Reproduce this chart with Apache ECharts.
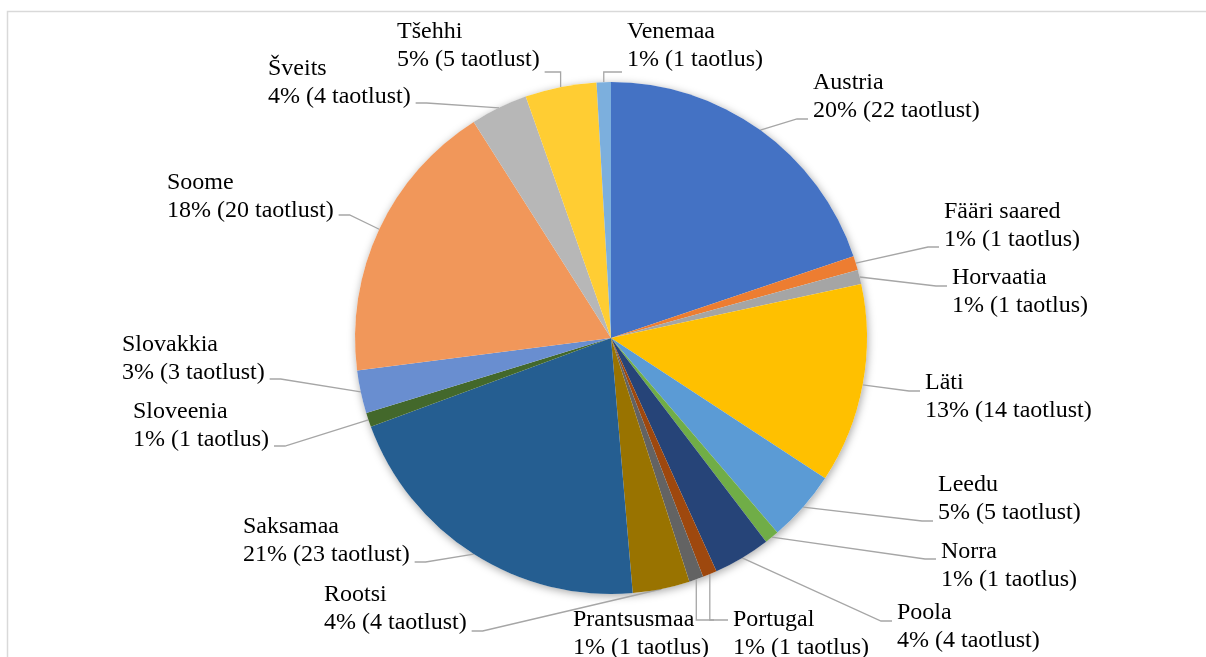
<!DOCTYPE html>
<html>
<head>
<meta charset="utf-8">
<script src="https://cdn.jsdelivr.net/npm/echarts@6/dist/echarts.min.js"></script>
<style>
  html, body { margin: 0; padding: 0; background: #fff; }
  #chart { width: 1206px; height: 657px; }
</style>
</head>
<body>
<div id="chart"></div>
<script>
// riigid päripäeva alates kella 12-st
const countries = ['Austria', 'Fääri saared', 'Horvaatia', 'Läti', 'Leedu', 'Norra', 'Poola', 'Portugal',
  'Prantsusmaa', 'Rootsi', 'Saksamaa', 'Sloveenia', 'Slovakkia', 'Soome', 'Šveits', 'Tšehhi', 'Venemaa']
const applications = [22, 1, 1, 14, 5, 1, 4, 1, 1, 4, 23, 1, 3, 20, 4, 5, 1]

const sliceColors = ['#4472C4', '#ED7D31', '#A5A5A5', '#FFC000', '#5B9BD5', '#70AD47', '#264478', '#9E480E',
  '#636363', '#997300', '#255E91', '#43682B', '#698ED0', '#F1975A', '#B7B7B7', '#FFCD33', '#7CAFDD']

// sildi asukoht: vasak, ülemine, joone pool (R = silt joonest paremal), joone kõrgus sildis, joone kuju
const labelSpots = [
  [813, 69, 'R', 50, 'h'],
  [944, 198, 'R', 49, 'h'],
  [952, 264, 'R', 22, 'h'],
  [925, 369, 'R', 22, 'h'],
  [938, 471, 'R', 50, 'h'],
  [941, 538, 'R', 21, 'h'],
  [897, 599, 'R', 22, 'h'],
  [733, 606, 'R', 14, 'v'],
  [573, 606, 'L', 14, 'v'],
  [324, 581, 'L', 50, 'h'],
  [243, 513, 'L', 49, 'h'],
  [133, 398, 'L', 48, 'h'],
  [122, 331, 'L', 48, 'h'],
  [167, 169, 'L', 46, 'h'],
  [268, 55, 'L', 48, 'h'],
  [397, 18, 'L', 54, 'v'],
  [627, 18, 'R', 54, 'v']
]

const chart = echarts.init(document.getElementById('chart'))

const option = {
  backgroundColor: '#fff',
  animation: false,
  graphic: [{
    type: 'rect',
    shape: { x: 7.5, y: 11.5, width: 1200, height: 700 },
    style: { fill: 'none', stroke: '#d9d9d9', lineWidth: 1.5 },
    silent: true
  }],
  series: [
    {
      // ainult vari pirukale
      type: 'pie',
      center: [611, 338],
      radius: 256,
      silent: true,
      z: 1,
      label: { show: false },
      labelLine: { show: false },
      itemStyle: {
        color: '#fff',
        shadowBlur: 8,
        shadowColor: 'rgba(0,0,0,0.35)',
        shadowOffsetX: 1,
        shadowOffsetY: 2
      },
      data: [1]
    },
    {
      type: 'pie',
      center: [611, 338],
      radius: 256,
      startAngle: 90,
      clockwise: true,
      z: 2,
      avoidLabelOverlap: false,
      color: sliceColors,
      itemStyle: { borderWidth: 0 },
      emphasis: { scale: false },
      label: {
        show: true,
        position: 'outside',
        color: '#000',
        fontFamily: '"Liberation Serif", "Times New Roman", serif',
        fontSize: 24,
        lineHeight: 28,
        formatter: p => p.name + '\n' + Math.round(p.percent) + '% (' + p.value + ' ' +
          (p.value === 1 ? 'taotlus' : 'taotlust') + ')'
      },
      labelLine: {
        show: true,
        lineStyle: { color: '#a6a6a6', width: 1.3 }
      },
      labelLayout: function (params) {
        const [left, top, side, dy, kind] = labelSpots[params.dataIndex]
        const w = params.labelRect.width
        const start = params.labelLinePoints[0]
        const ay = top + dy
        const endX = side === 'R' ? left - 5 : left + w + 5
        const elbow = kind === 'v' ? [start[0], ay] : [side === 'R' ? endX - 11 : endX + 11, ay]
        return {
          x: left,
          y: top,
          align: 'left',
          verticalAlign: 'top',
          labelLinePoints: [start, elbow, [endX, ay]]
        }
      },
      data: countries.map((name, i) => ({ name: name, value: applications[i] }))
    }
  ]
}

chart.setOption(option)
</script>
</body>
</html>
